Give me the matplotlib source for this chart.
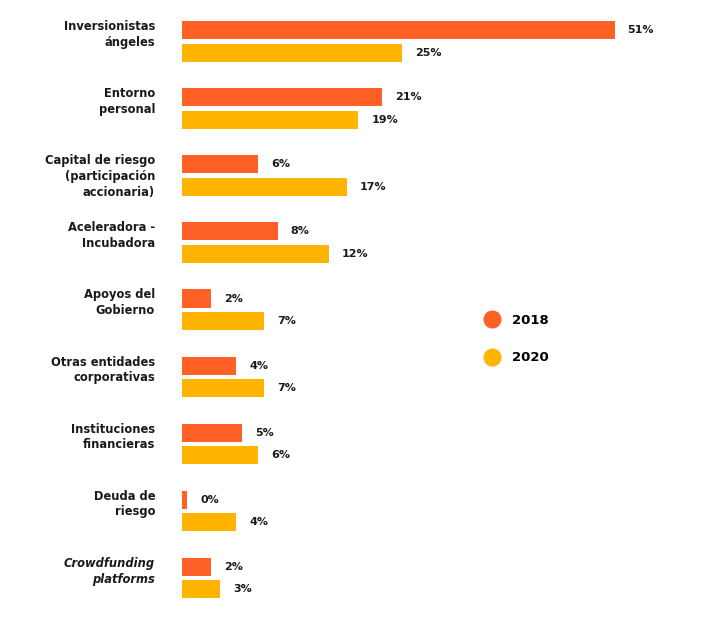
import numpy as np
import matplotlib
matplotlib.use("Agg")
import matplotlib.pyplot as plt
from matplotlib.lines import Line2D

# categories (top to bottom)
categorias = [
    "Inversionistas\nángeles",
    "Entorno\npersonal",
    "Capital de riesgo\n(participación\naccionaria)",
    "Aceleradora -\nIncubadora",
    "Apoyos del\nGobierno",
    "Otras entidades\ncorporativas",
    "Instituciones\nfinancieras",
    "Deuda de\nriesgo",
    "Crowdfunding\nplatforms",
]

# printed labels
etiquetas_2018 = ["51%", "21%", "6%", "8%", "2%", "4%", "5%", "0%", "2%"]
etiquetas_2020 = ["25%", "19%", "17%", "12%", "7%", "7%", "6%", "4%", "3%"]

# bar lengths as drawn in the graphic (in % units of the 51% bar)
barras_2018 = [51.0, 23.6, 9.0, 11.3, 3.4, 6.4, 7.1, 0.6, 3.4]
barras_2020 = [25.9, 20.8, 19.4, 17.3, 9.7, 9.7, 9.0, 6.4, 4.5]

anios = ["2018", "2020"]
c2018 = "#FF6026"
c2020 = "#FFB400"
texto = "#1a1a1a"

plt.rcParams['font.family'] = ['DejaVu Sans']

fig = plt.figure(figsize=(7.05, 6.19), dpi=100)
ax = fig.add_axes([182 / 705, 0, 509 / 705, 1])

y = np.arange(len(categorias))
alto = 0.27
desp = 0.168

b1 = ax.barh(y - desp, barras_2018, height=alto, color=c2018, label=anios[0])
b2 = ax.barh(y + desp, barras_2020, height=alto, color=c2020, label=anios[1])

ax.set_xlim(0, 60)
ax.set_ylim(8.611, -0.619)
ax.axis("off")

for yi, v, t in zip(y - desp, barras_2018, etiquetas_2018):
    ax.annotate(t, (v, yi), xytext=(13, 0), textcoords="offset pixels",
                va="center", ha="left", fontsize=8, fontweight="bold", color=texto)
for yi, v, t in zip(y + desp, barras_2020, etiquetas_2020):
    ax.annotate(t, (v, yi), xytext=(13, 0), textcoords="offset pixels",
                va="center", ha="left", fontsize=8, fontweight="bold", color=texto)

for i, cat in enumerate(categorias):
    estilo = "italic" if cat.startswith("Crowdfunding") else "normal"
    ax.annotate(cat, (0, i - desp - alto / 2), xytext=(-27, 1), textcoords="offset pixels",
                va="top", ha="right", fontsize=8.3, fontweight="bold", style=estilo,
                color=texto, linespacing=1.28, annotation_clip=False)

handles = [Line2D([], [], marker="o", linestyle="", markersize=12, color=c)
           for c in (c2018, c2020)]
fig.legend(handles, anios, loc="center left", bbox_to_anchor=(470 / 705, 1 - 339 / 619),
           frameon=False, prop={"weight": "bold", "size": 9.5}, labelspacing=1.85,
           handletextpad=0.75, handlelength=1.5)

fig.savefig("out.png", dpi=100)
